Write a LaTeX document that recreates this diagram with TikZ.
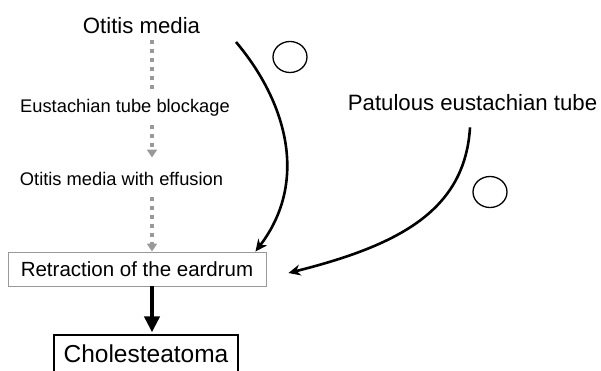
\documentclass[tikz,border=0pt]{standalone}
\usepackage{fontspec}
\setmainfont{Liberation Sans}
\usetikzlibrary{arrows.meta,shapes.geometric}
\begin{document}
\begin{tikzpicture}[x=1pt,y=-1pt,
  bigtxt/.style={inner sep=0pt,anchor=base,font=\fontsize{22.2}{26}\selectfont},
  smalltxt/.style={inner sep=0pt,anchor=base,font=\fontsize{18.3}{22}\selectfont},
  dotline/.style={draw=gray!80,line width=4pt,dash pattern=on 4pt off 5pt},
  dotarr/.style={dotline,-{Triangle[length=8pt,width=10pt]}},
  curvearr/.style={draw=black,line width=2.6pt,-{Stealth[length=12pt,width=11pt]}},
  thickarr/.style={draw=black,line width=4pt,-{Triangle[length=16pt,width=15pt]}},
  ring/.style={draw=black,line width=1.3pt,ellipse,minimum width=34pt,minimum height=31pt,inner sep=0pt}]
\useasboundingbox (0,0) rectangle (601,370);
\node[bigtxt] (om) at (141.5,33) {Otitis media};
\node[smalltxt] (etb) at (125,112) {Eustachian tube blockage};
\node[smalltxt] (ome) at (121.5,185) {Otitis media with effusion};
\node[draw=gray!80,line width=0.9pt,minimum width=258pt,minimum height=34pt,inner sep=0pt,
  font=\fontsize{20.5}{24}\selectfont] (ret) at (137,269) {Retraction of the eardrum};
\node[draw=black,line width=1.3pt,minimum width=184pt,minimum height=38pt,inner sep=0pt,
  font=\fontsize{24.5}{28}\selectfont] (chol) at (146,354) {Cholesteatoma};
\node[bigtxt] (pet) at (472.5,110) {Patulous eustachian tube};
\node[ring] (k1) at (290,57) {};
\node[ring] (k2) at (490,192) {};
\coordinate (ax) at (152,0);
\coordinate (c1) at (236,42);
\draw[dotline,shorten <=7pt,shorten >=8pt] (om.south -| ax) -- (etb.north -| ax);
\draw[dotarr,shorten <=9pt,shorten >=14pt] (etb.south -| ax) -- (ome.north -| ax);
\draw[dotarr,shorten <=12pt] (ome.south -| ax) -- (ret.north -| ax);
\draw[thickarr,shorten >=2pt] (ret.south -| ax) -- (chol.north -| ax);
\draw[curvearr] (c1) .. controls (285,100) and (310,180) .. ([xshift=-11pt]ret.north east);
\draw[curvearr] ([xshift=-2.5pt,yshift=-17pt]pet.south) .. controls (465,210) and (400,245) .. ([xshift=22pt,yshift=-4pt]ret.east);
\end{tikzpicture}
\end{document}
